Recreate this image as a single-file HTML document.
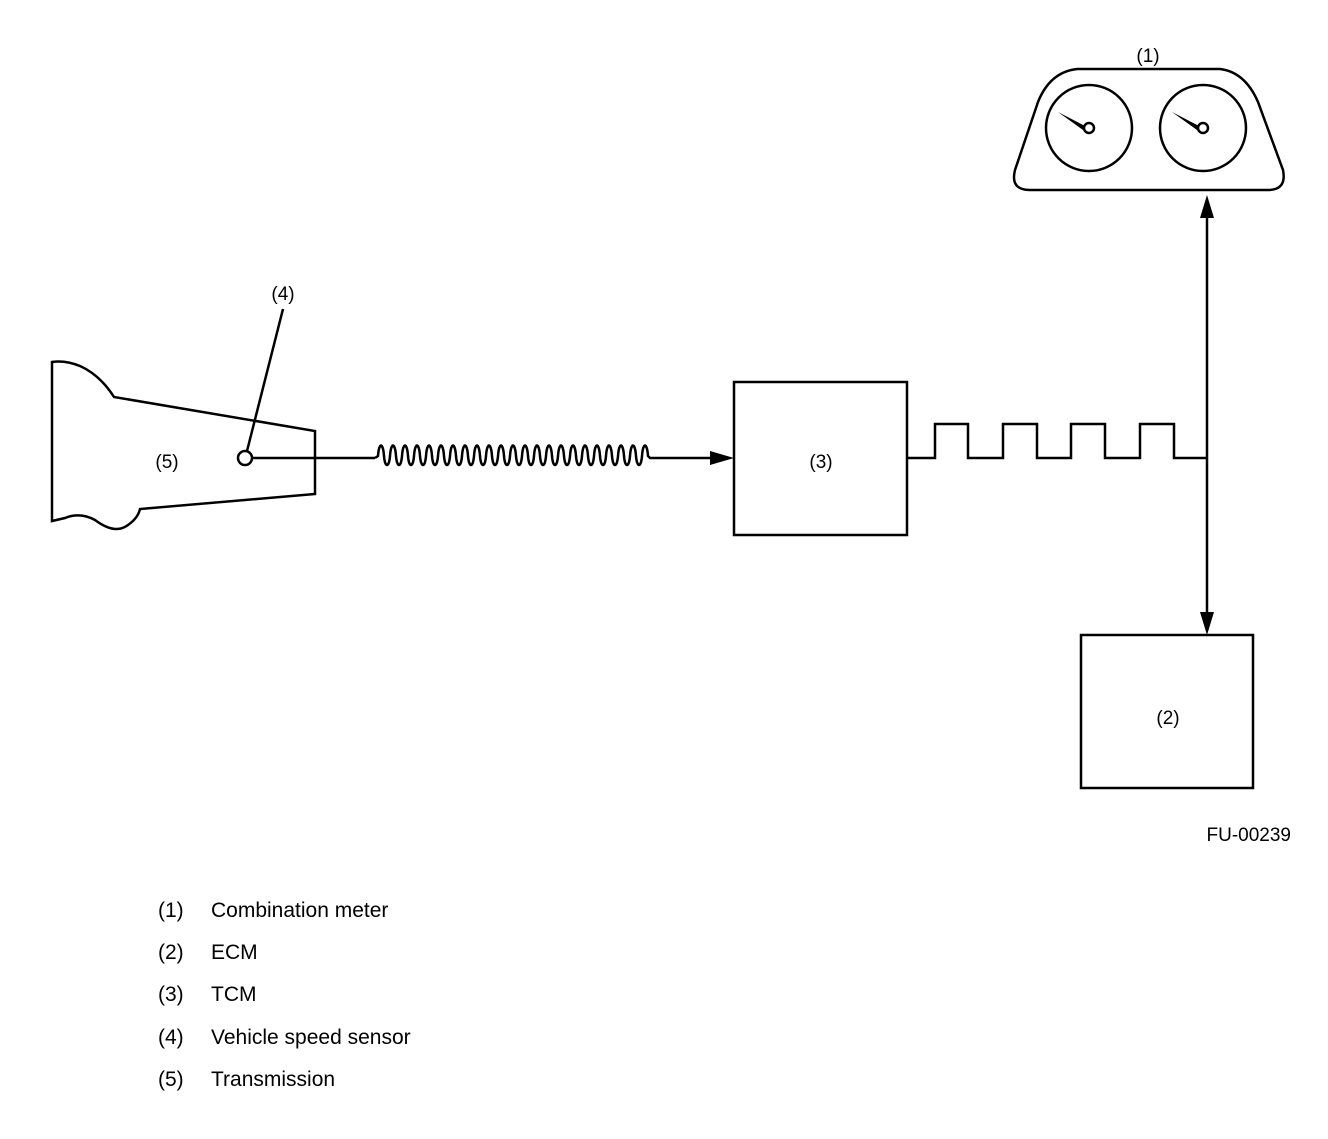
<!DOCTYPE html>
<html><head><style>
body{margin:0;background:#fff;}
svg text{font-family:"Liberation Sans",Arial,sans-serif;fill:#000;}
</style></head><body>
<svg width="1328" height="1134" viewBox="0 0 1328 1134" xmlns="http://www.w3.org/2000/svg">
<g fill="none" stroke="#000" stroke-width="2.5">
<!-- meter -->
<path d="M1077,69 L1220,69 Q1245,72 1258,102 L1283,170 Q1287,190 1268,190 L1030,190 Q1010,190 1015,170 L1038,102 Q1050,72 1077,69 Z"/>
<circle cx="1089" cy="128" r="43"/>
<circle cx="1203" cy="128" r="43"/>
<circle cx="1089" cy="128" r="5"/>
<circle cx="1203" cy="128" r="5"/>
<!-- transmission -->
<path d="M52,362 L52,521 L65,518 Q80,512 95,520 Q115,535 128,525 Q138,518 140,509 L315,494 L315,431 L114,397 Q100,375 80,366 Q65,360 52,362 Z"/>
<circle cx="245" cy="458" r="7"/>
<line x1="252" y1="458" x2="375" y2="458"/>
<line x1="247" y1="451" x2="283" y2="309"/>
<!-- boxes -->
<rect x="734" y="382" width="173" height="153"/>
<rect x="1081" y="635" width="172" height="153"/>
<!-- square wave -->
<polyline points="907,458 935,458 935,424 968,424 968,458 1003,458 1003,424 1037,424 1037,458 1071,458 1071,424 1105,424 1105,458 1140,458 1140,424 1174,424 1174,458 1207,458"/>
<line x1="1207" y1="210" x2="1207" y2="622"/>
<line x1="655" y1="458" x2="715" y2="458"/>
</g>
<path d="M375,458 Q380,458 381,450 C383,440 387,440 388,452 C390,470 394,470 395,452" fill="none" stroke="#000" stroke-width="2.5" opacity="0"/>
<path fill="none" stroke="#000" stroke-width="2.5" d="
M375,458 L378,456
c1,-14 5,-14 6,0 c1,12 5,12 6,0
c1,-14 5,-14 6,0 c1,12 5,12 6,0
c1,-14 5,-14 6,0 c1,12 5,12 6,0
c1,-14 5,-14 6,0 c1,12 5,12 6,0
c1,-14 5,-14 6,0 c1,12 5,12 6,0
c1,-14 5,-14 6,0 c1,12 5,12 6,0
c1,-14 5,-14 6,0 c1,12 5,12 6,0
c1,-14 5,-14 6,0 c1,12 5,12 6,0
c1,-14 5,-14 6,0 c1,12 5,12 6,0
c1,-14 5,-14 6,0 c1,12 5,12 6,0
c1,-14 5,-14 6,0 c1,12 5,12 6,0
c1,-14 5,-14 6,0 c1,12 5,12 6,0
c1,-14 5,-14 6,0 c1,12 5,12 6,0
c1,-14 5,-14 6,0 c1,12 5,12 6,0
c1,-14 5,-14 6,0 c1,12 5,12 6,0
c1,-14 5,-14 6,0 c1,12 5,12 6,0
c1,-14 5,-14 6,0 c1,12 5,12 6,0
c1,-14 5,-14 6,0 c1,12 5,12 6,0
c1,-14 5,-14 6,0 c1,12 5,12 6,0
c1,-14 5,-14 6,0 c1,12 5,12 6,0
c1,-14 5,-14 6,0 c1,12 5,12 6,0
c1,-14 5,-14 6,0 c1,12 5,12 6,0
c1,-14 5,-14 6,0 l2,2 L655,458"/>
<!-- needles -->
<polygon points="1058,112 1085,126 1083,130" fill="#000"/>
<polygon points="1172,112 1199,126 1197,130" fill="#000"/>
<!-- arrowheads -->
<polygon points="734,458 710,451 710,465" fill="#000"/>
<polygon points="1207,195 1200,218 1214,218" fill="#000"/>
<polygon points="1207,635 1200,612 1214,612" fill="#000"/>
<g font-size="19">
<text x="1148" y="62" text-anchor="middle">(1)</text>
<text x="283" y="300" text-anchor="middle">(4)</text>
<text x="167" y="468" text-anchor="middle">(5)</text>
<text x="821" y="468" text-anchor="middle">(3)</text>
<text x="1168" y="724" text-anchor="middle">(2)</text>
<text x="1291" y="841" text-anchor="end">FU-00239</text>
</g>
<g font-size="21">
<text x="158" y="917">(1)</text><text x="211" y="917">Combination meter</text>
<text x="158" y="959">(2)</text><text x="211" y="959">ECM</text>
<text x="158" y="1001">(3)</text><text x="211" y="1001">TCM</text>
<text x="158" y="1044">(4)</text><text x="211" y="1044">Vehicle speed sensor</text>
<text x="158" y="1086">(5)</text><text x="211" y="1086">Transmission</text>
</g>
</svg>
</body></html>
